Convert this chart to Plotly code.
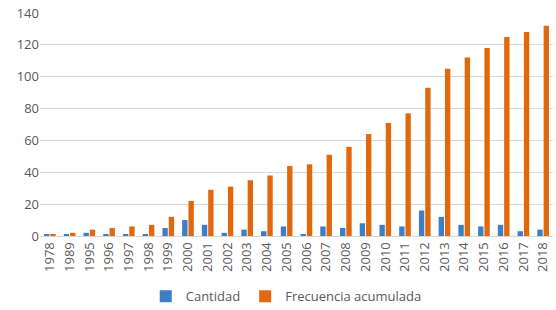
import plotly.graph_objects as go

years = ["1978", "1989", "1995", "1996", "1997", "1998", "1999", "2000", "2001", "2002",
         "2003", "2004", "2005", "2006", "2007", "2008", "2009", "2010", "2011", "2012",
         "2013", "2014", "2015", "2016", "2017", "2018"]
cantidad = [1, 1, 2, 1, 1, 1, 5, 10, 7, 2, 4, 3, 6, 1, 6, 5, 8, 7, 6, 16, 12, 7, 6, 7, 3, 4]
frecuencia = [1, 2, 4, 5, 6, 7, 12, 22, 29, 31, 35, 38, 44, 45, 51, 56, 64, 71, 77, 93,
              105, 112, 118, 125, 128, 132]
y_ticks = [0, 20, 40, 60, 80, 100, 120, 140]

BLUE = "#3E7EC4"
ORANGE = "#E2680E"
TXT = "#595959"
FONT = "Open Sans"

fig = go.Figure()
fig.add_trace(go.Bar(x=years, y=cantidad, name="Cantidad", marker_color=BLUE,
                     marker_line_width=0))
fig.add_trace(go.Bar(x=years, y=frecuencia, name="Frecuencia acumulada",
                     marker_color=ORANGE, marker_line_width=0))

fig.update_layout(
    width=556, height=310,
    margin=dict(l=40, r=3, t=13, b=74, autoexpand=False),
    paper_bgcolor="white", plot_bgcolor="white",
    barmode="group", bargap=0.36, bargroupgap=0.15,
    font=dict(family=FONT, size=13, color=TXT),
    showlegend=True,
    legend=dict(orientation="h", x=0.48, xanchor="center", y=-0.27, yanchor="middle",
                font=dict(family=FONT, size=13, color=TXT), itemwidth=30,
                traceorder="normal"),
    xaxis=dict(type="category", tickangle=-90, showgrid=False, ticks="",
               automargin=False,
               showline=True, linecolor="#d9d9d9", linewidth=1,
               tickfont=dict(family=FONT, size=13, color=TXT)),
    yaxis=dict(range=[0, 140], tickvals=y_ticks, showgrid=True, gridcolor="#d9d9d9",
               automargin=False,
               gridwidth=1, zeroline=False, showline=False, ticks="",
               tickfont=dict(family=FONT, size=13, color=TXT)),
)

fig.write_html("out.html",
               config={"displayModeBar": False},
               post_script="document.body.style.margin='0';document.body.style.overflow='hidden';")
